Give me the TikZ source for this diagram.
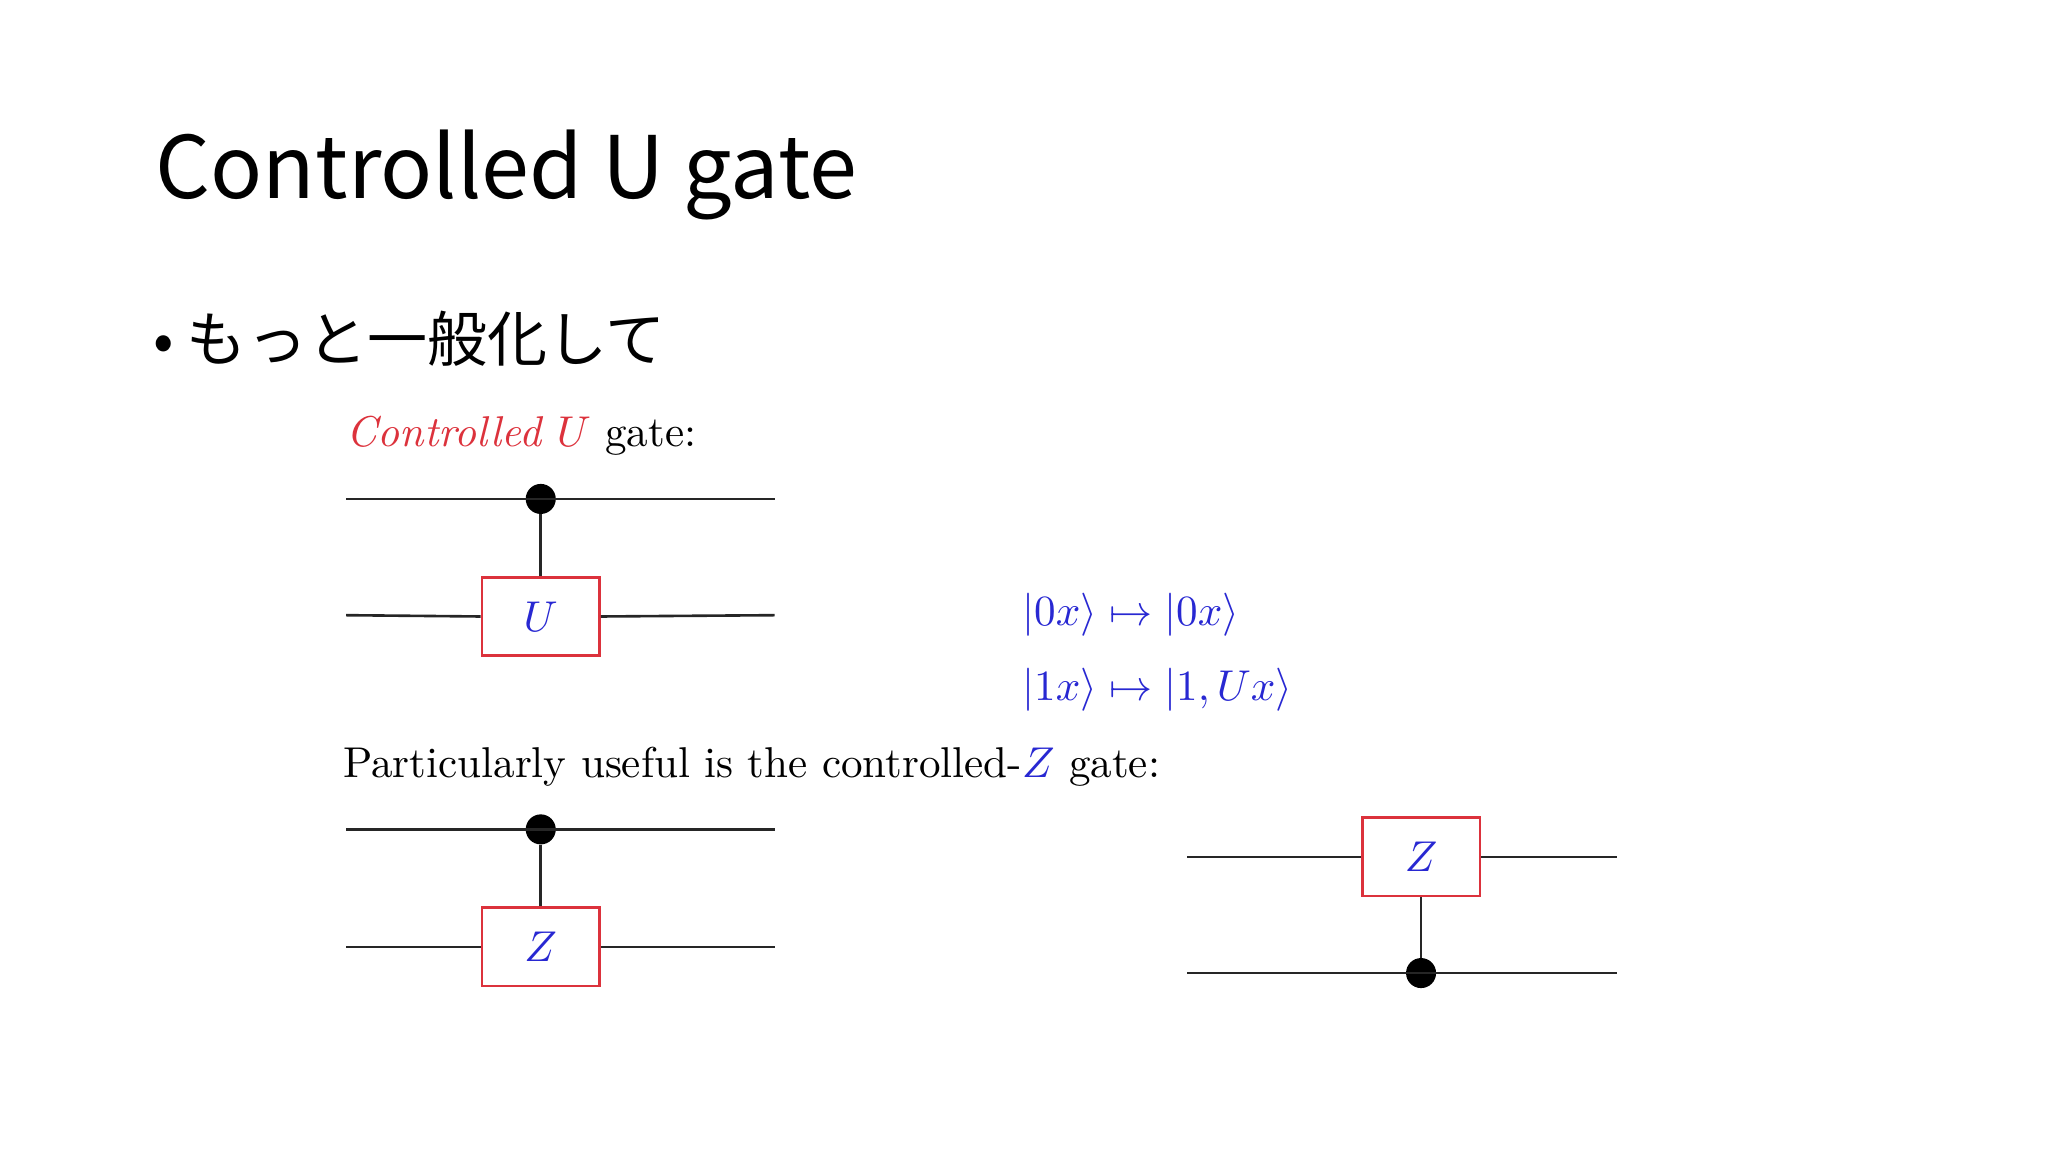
\documentclass[tikz,border=0pt]{standalone}
\usepackage{fontspec}
\usetikzlibrary{calc}
\newfontfamily\jp{Noto Sans CJK JP}
\definecolor{gred}{RGB}{220,50,60}
\definecolor{mblue}{RGB}{40,40,210}
\newcommand{\gl}[1]{\scalebox{3.3}{$#1$}}
\begin{document}
\begin{tikzpicture}[x=1pt,y=-1pt,
  wire/.style={line width=2pt, black!85},
  gatebox/.style={draw=gred, line width=2pt, fill=white, minimum width=90pt, minimum height=60pt, inner sep=0pt, text=mblue},
  ctrl/.style={circle, fill=black, minimum size=23pt, inner sep=0pt},
  ltx/.style={anchor=base west, inner sep=0pt, font=\normalsize, scale=3.3, transform shape}]
\useasboundingbox (0,0) rectangle (1568,882);
\node[anchor=base west, inner sep=0pt, font=\jp\fontsize{66}{80}\selectfont] (title) at (119,152) {Controlled U gate};
\node[anchor=base west, inner sep=0pt, font=\jp\fontsize{46}{52}\selectfont] (bullet) at (117,277) {• もっと一般化して};
\node[ltx] (t1) at (265,342) {\textcolor{gred}{\textit{Controlled $U$}} gate:};
\coordinate (a1) at (265,382); \coordinate (a2) at (593,382);
\coordinate (b1) at (265,471); \coordinate (b2) at (593,471);
\node[ctrl] (c1) at (414,382) {};
\node[gatebox] (U) at (414,472) {\gl{U}};
\draw[wire] (a1) -- (a2);
\draw[wire] (b1) -- (U.west) (U.east) -- (b2);
\draw[wire] (c1) -- (U.north);
\node[ltx, text=mblue] (m1) at (782,479) {$|0x\rangle \mapsto |0x\rangle$};
\node[ltx, text=mblue] (m2) at (782,536) {$|1x\rangle \mapsto |1,Ux\rangle$};
\node[ltx] (t2) at (262,595) {Particularly useful is the controlled-\textcolor{mblue}{$Z$} gate:};
\coordinate (d1) at (265,635); \coordinate (d2) at (593,635);
\coordinate (e1) at (265,725); \coordinate (e2) at (593,725);
\node[ctrl] (c2) at (414,635) {};
\node[gatebox] (Z1) at (414,725) {\gl{Z}};
\draw[wire] (d1) -- (d2);
\draw[wire] (e1) -- (Z1.west) (Z1.east) -- (e2);
\draw[wire] (c2) -- (Z1.north);
\coordinate (f1) at (909,656); \coordinate (f2) at (1238,656);
\coordinate (g1) at (909,745); \coordinate (g2) at (1238,745);
\node[gatebox] (Z2) at (1088,656) {\gl{Z}};
\node[ctrl] (c3) at (1088,745) {};
\draw[wire] (f1) -- (Z2.west) (Z2.east) -- (f2);
\draw[wire] (g1) -- (g2);
\draw[wire] (c3) -- (Z2.south);
\end{tikzpicture}
\end{document}
